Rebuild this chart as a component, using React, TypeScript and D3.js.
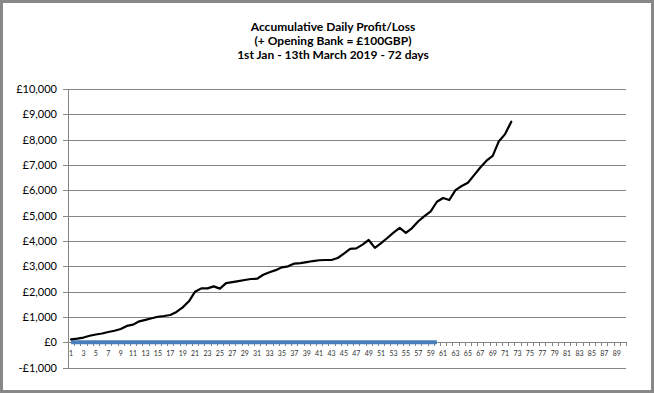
import React from "react";
import * as d3 from "d3";

const titleLines = [
  "Accumulative Daily Profit/Loss",
  "(+ Opening Bank = £100GBP)",
  "1st Jan - 13th March 2019 - 72 days",
];

// accumulative bank per day (days 1..72)
const bankValues = [
  120, 150, 190, 260, 310, 350, 410, 460, 530, 650,
  700, 830, 890, 950, 1010, 1040, 1080, 1200, 1380, 1620,
  2000, 2130, 2130, 2210, 2120, 2340, 2380, 2420, 2460, 2500,
  2510, 2670, 2770, 2850, 2960, 3000, 3110, 3130, 3170, 3210,
  3240, 3250, 3250, 3330, 3500, 3690, 3710, 3860, 4040, 3730,
  3920, 4120, 4330, 4520, 4320, 4510, 4780, 4980, 5170, 5550,
  5700, 5620, 6010, 6170, 6300, 6600, 6900, 7170, 7360, 7940,
  8220, 8710,
];

// second series: flat zero for days 1..60
const zeroValues = d3.range(60).map(() => 0);

const dayCategories = d3.range(1, 91);
const yTicks = d3.range(-1000, 10001, 1000);

const W = 654;
const H = 393;
const font = "Lato, 'Open Sans', sans-serif";

export default function App() {
  const x = d3.scaleBand<number>().domain(dayCategories).range([68, 626]).padding(0);
  const cx = (d: number) => (x(d) as number) + x.bandwidth() / 2;
  const y = d3.scaleLinear().domain([-1000, 10000]).range([367.7, 89]);

  const line = d3
    .line<number>()
    .x((_, i) => cx(i + 1))
    .y((d) => y(d));

  const fmt = (v: number) => (v < 0 ? "-£" : "£") + d3.format(",")(Math.abs(v));

  return (
    <svg
      width={W}
      height={H}
      style={{ position: "absolute", left: 0, top: 0 }}
      fontFamily={font}
    >
      <rect x={0} y={0} width={W} height={H} fill="#888888" />
      <rect x={3} y={3} width={W - 6} height={H - 6} fill="#ffffff" />

      {titleLines.map((t, i) => (
        <text
          key={i}
          x={333}
          y={31 + i * 14}
          textAnchor="middle"
          fontSize={12}
          fontWeight="bold"
          fill="#000"
        >
          {t}
        </text>
      ))}

      {/* gridlines */}
      {yTicks.map((t) => (
        <line
          key={t}
          x1={63}
          x2={626}
          y1={Math.round(y(t)) + 0.5}
          y2={Math.round(y(t)) + 0.5}
          stroke="#868686"
          strokeWidth={1}
        />
      ))}
      {yTicks.map((t) => (
        <text
          key={"l" + t}
          x={57}
          y={y(t)}
          dy="0.35em"
          textAnchor="end"
          fontSize={11}
          fill="#000"
        >
          {fmt(t)}
        </text>
      ))}
      <line x1={68.5} x2={68.5} y1={y(10000)} y2={y(-1000) + 0.5} stroke="#868686" />

      {/* category ticks */}
      {d3.range(0, 91).map((k) => {
        const xx = Math.round(68 + k * x.bandwidth()) + 0.5;
        return (
          <line
            key={"t" + k}
            x1={xx}
            x2={xx}
            y1={Math.round(y(0))}
            y2={Math.round(y(0)) + 4}
            stroke="#868686"
          />
        );
      })}
      {dayCategories
        .filter((d) => d % 2 === 1)
        .map((d) => (
          <text
            key={"c" + d}
            x={cx(d)}
            y={356}
            textAnchor="middle"
            fontSize={7}
            fill="#333"
          >
            {d}
          </text>
        ))}

      <path
        d={line(zeroValues) || ""}
        fill="none"
        stroke="#4a7ebb"
        strokeWidth={4}
      />
      <path
        d={line(bankValues) || ""}
        fill="none"
        stroke="#000"
        strokeWidth={2.2}
        strokeLinejoin="round"
        strokeLinecap="round"
      />
    </svg>
  );
}
